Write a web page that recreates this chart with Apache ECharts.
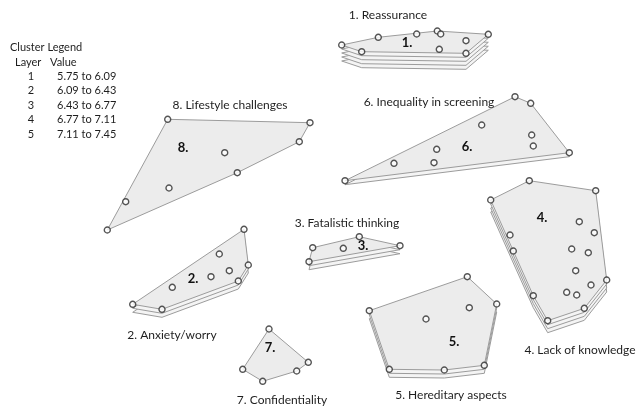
<!DOCTYPE html>
<html><head><meta charset="utf-8">
<script src="https://cdn.jsdelivr.net/npm/echarts@6/dist/echarts.min.js"></script>
<style>html,body{margin:0;padding:0;background:#fff}#c{width:637px;height:408px}</style>
</head><body><div id="c"></div>
<script>
// ---- data ----
const clusterNames = ['1. Reassurance','2. Anxiety/worry','3. Fatalistic thinking','4. Lack of knowledge',
  '5. Hereditary aspects','6. Inequality in screening','7. Confidentiality','8. Lifestyle challenges'];
const clusterIds = ['1.','2.','3.','4.','5.','6.','7.','8.'];
const clusterLayers = [5,3,3,4,3,2,1,1];
const legendLayers = ['1','2','3','4','5'];
const legendValues = ['5.75 to 6.09','6.09 to 6.43','6.43 to 6.77','6.77 to 7.11','7.11 to 7.45'];

// statement points (map coordinates)
const points1 = [[341.7,45],[361.7,51.7],[378.3,37.3],[416.7,34],[437.3,31],[440.7,34],[488.3,34.3],[466,40.7],[439.3,49.3],[466,53.3]];
const points2 = [[244,229.3],[248.3,265],[238.3,281],[219.3,254],[229.3,270.7],[211,276.7],[172.3,287.3],[162,309.3],[132.7,304.3]];
const points3 = [[312.7,247.7],[359.3,236.7],[343.3,248.3],[400,245.7],[309,261.7]];
const points4 = [[529.3,180.7],[595.7,190.7],[490.7,200],[579.3,221.7],[594.3,232.7],[510,235],[513.3,251],[571.7,249],[588.3,252.7],[575.7,270.7],[606.7,280],[591,285],[566.7,292.3],[576.7,295],[533.3,295.7],[584.3,308.3],[547.7,320.7]];
const points5 = [[467.3,276.7],[496.7,304],[369.3,310.7],[469.3,307.7],[426,319],[389.3,369.3],[444.3,370],[484.3,365.3]];
const points6 = [[515,96.7],[530.7,103.3],[481.7,125],[531.7,135],[533.3,146],[569.3,152.7],[436.7,149.3],[434,162.7],[394,163.3],[345,180.7]];
const points7 = [[269,329],[308.3,362.3],[296.7,371],[262.7,381.3],[242.7,369.3]];
const points8 = [[167.7,119.3],[310,122.7],[299.3,141.7],[237.3,172.7],[224.7,152.7],[169,188],[125.7,201.7],[107.3,230]];
const allPoints = [points1,points2,points3,points4,points5,points6,points7,points8];

// ---- layout (annotation positions in pixels) ----
const titlePos = [[388,15],[172,335],[347,223],[580,350],[451,395],[429,102],[282,400],[230,105]];
const idPos = [[407,43],[193,279],[363,246],[542,218],[454,342],[467,147],[270,348],[183,148]];
const LAYER_OFF = 4;

function hull(pts){
  const p = pts.slice().sort((a,b)=>a[0]-b[0]||a[1]-b[1]);
  const cross=(o,a,b)=>(a[0]-o[0])*(b[1]-o[1])-(a[1]-o[1])*(b[0]-o[0]);
  const lo=[],up=[];
  for(const q of p){while(lo.length>=2&&cross(lo[lo.length-2],lo[lo.length-1],q)<=0)lo.pop();lo.push(q);}
  for(let i=p.length-1;i>=0;i--){const q=p[i];while(up.length>=2&&cross(up[up.length-2],up[up.length-1],q)<=0)up.pop();up.push(q);}
  up.pop();lo.pop();return lo.concat(up);
}

const series = [];
allPoints.forEach((pts,ci)=>{
  const h = hull(pts);
  const layers = clusterLayers[ci];
  series.push({
    type:'custom', coordinateSystem:'cartesian2d', z:1, silent:true,
    data:[[h[0][0],h[0][1]]],
    renderItem:(params,api)=>{
      const px = h.map(p=>api.coord(p));
      const children=[];
      for(let k=layers-1;k>=0;k--){
        children.push({type:'polygon',
          shape:{points:px.map(p=>[p[0],p[1]+k*LAYER_OFF])},
          style:{fill:k===0?'#ececec':'#f4f4f4',stroke:'#9c9c9c',lineWidth:1}});
      }
      return {type:'group',children};
    }
  });
});
series.push({
  type:'scatter', z:5, silent:true,
  data:[].concat(...allPoints),
  symbol:'circle', symbolSize:6,
  itemStyle:{color:'#ffffff',borderColor:'#2a2a2a',borderWidth:1.4}
});

const graphics = [];
const FONT = 'Lato, "Open Sans", sans-serif';
const TXT = '#1e1e1e';
clusterNames.forEach((n,i)=>{
  graphics.push({type:'text',x:titlePos[i][0],y:titlePos[i][1],z:10,
    style:{text:n,fill:TXT,font:'12px '+FONT,textAlign:'center',textVerticalAlign:'middle'}});
  graphics.push({type:'text',x:idPos[i][0],y:idPos[i][1],z:10,
    style:{text:clusterIds[i],fill:'#111',font:'bold 13px '+FONT,textAlign:'center',textVerticalAlign:'middle'}});
});
graphics.push({type:'text',x:10,y:47,style:{text:'Cluster Legend',fill:TXT,font:'11px '+FONT,textVerticalAlign:'middle'}});
graphics.push({type:'text',x:15,y:62,style:{text:'Layer',fill:TXT,font:'11px '+FONT,textVerticalAlign:'middle'}});
graphics.push({type:'text',x:50,y:62,style:{text:'Value',fill:TXT,font:'11px '+FONT,textVerticalAlign:'middle'}});
legendLayers.forEach((l,i)=>{
  const y = 76 + i*14.5;
  graphics.push({type:'text',x:31,y:y,style:{text:l,fill:TXT,font:'11px '+FONT,textAlign:'center',textVerticalAlign:'middle'}});
  graphics.push({type:'text',x:57,y:y,style:{text:legendValues[i],fill:TXT,font:'11px '+FONT,textVerticalAlign:'middle'}});
});

const chart = echarts.init(document.getElementById('c'),null,{renderer:'canvas'});
chart.setOption({
  animation:false,
  backgroundColor:'#fff',
  grid:{left:0,right:0,top:0,bottom:0},
  xAxis:{type:'value',min:0,max:637,show:false},
  yAxis:{type:'value',min:0,max:408,inverse:true,show:false},
  series:series,
  graphic:graphics
});
</script></body></html>
